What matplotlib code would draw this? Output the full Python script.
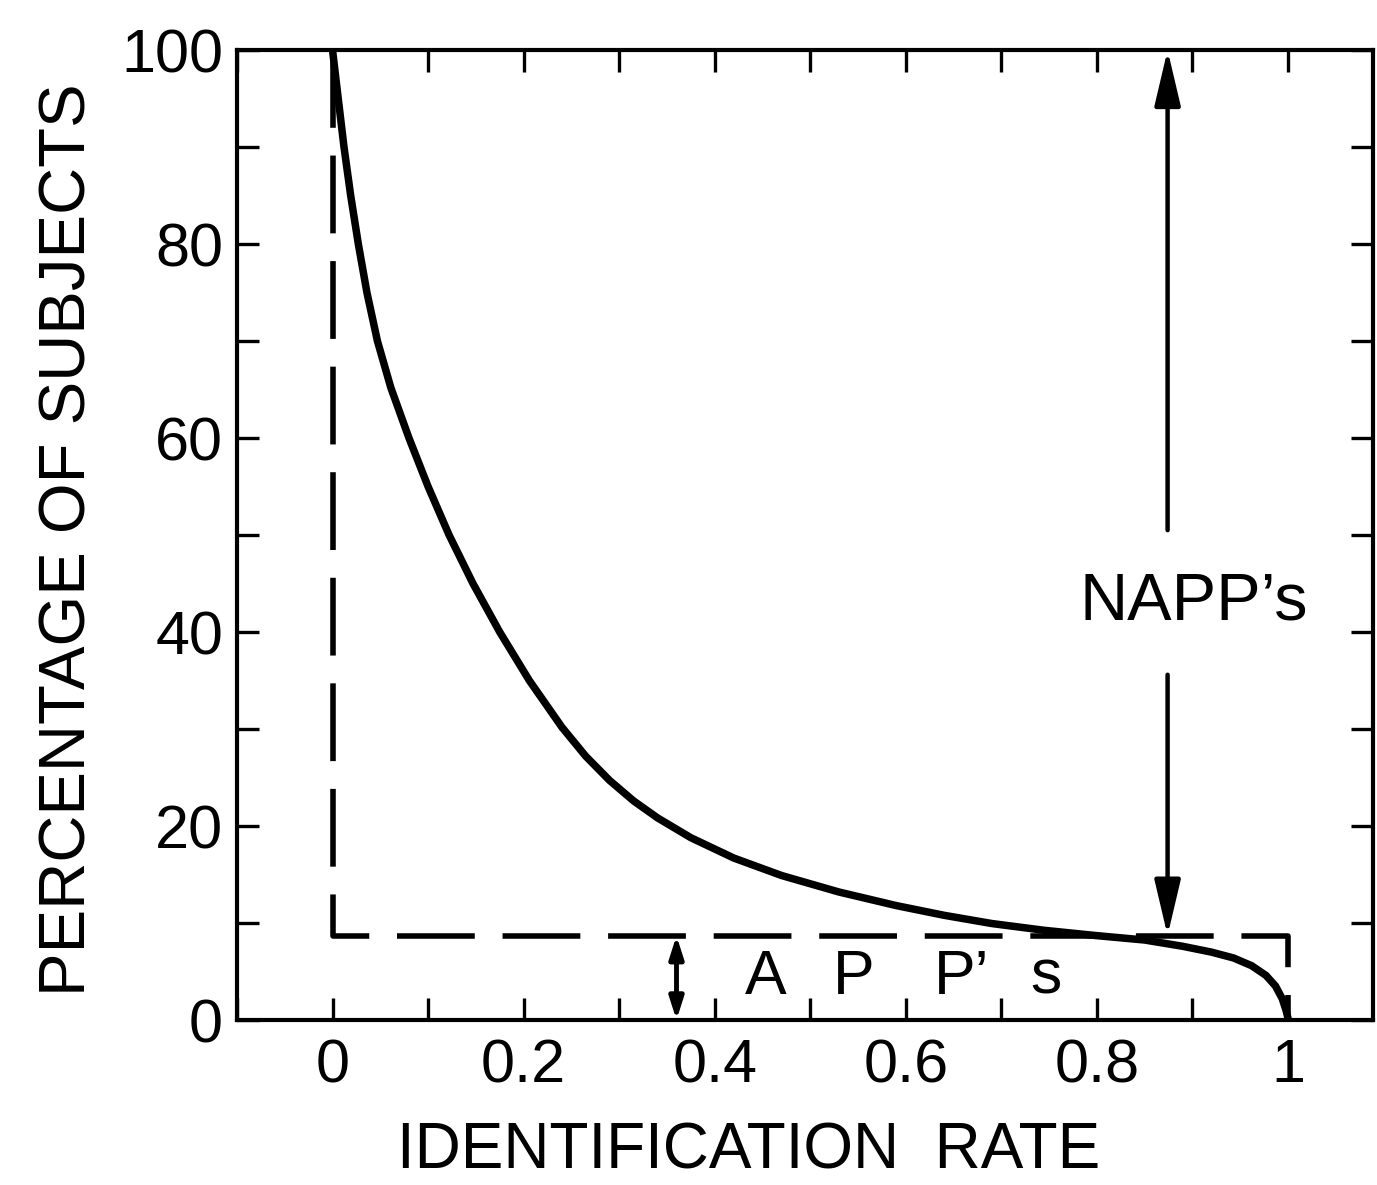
import numpy as np
import matplotlib
matplotlib.use("Agg")
import matplotlib.pyplot as plt
from matplotlib.ticker import MultipleLocator

plt.rcParams['font.family'] = ['Liberation Sans', 'DejaVu Sans']

# curve: identification rate vs percentage of subjects
rate = [0.000, 0.005, 0.012, 0.019, 0.027, 0.036, 0.047, 0.061, 0.080, 0.100,
        0.122, 0.147, 0.175, 0.206, 0.240, 0.265, 0.290, 0.315, 0.340, 0.375,
        0.420, 0.470, 0.530, 0.590, 0.640, 0.690, 0.745, 0.800, 0.850, 0.890,
        0.920, 0.943, 0.962, 0.977, 0.987, 0.994, 0.998, 1.000]
pct = [100.0, 95.8, 90.0, 85.0, 80.0, 75.0, 70.0, 65.2, 60.0, 55.0,
       50.0, 45.0, 40.0, 35.0, 30.2, 27.2, 24.7, 22.6, 20.85, 18.8,
       16.7, 14.9, 13.2, 11.8, 10.8, 9.95, 9.25, 8.7, 8.25, 7.6,
       7.0, 6.4, 5.6, 4.6, 3.5, 2.2, 1.0, 0.2]

# dashed "ideal" step: everyone at 0 except the APP's at 1
ideal_x = [0.0, 0.0, 1.0, 1.0]
ideal_y = [100.0, 8.7, 8.7, 0.0]
app_level = 8.7

xticks = [0, 0.2, 0.4, 0.6, 0.8, 1.0]
xticklabels = ['0', '0.2', '0.4', '0.6', '0.8', '1']
yticks = [0, 20, 40, 60, 80, 100]

fig = plt.figure(figsize=(13.77, 11.85), dpi=100)
ax = fig.add_axes([0.1721, 0.1392, 0.825, 0.8186])

ax.plot(rate, pct, color='black', lw=5.4, solid_joinstyle='round', solid_capstyle='round')
ax.plot(ideal_x, ideal_y, color='black', lw=4, dashes=(14, 5))

# NAPP's arrow (broken around label)
napp_x = 0.874
head = '-|>,head_length=1.7,head_width=0.4'
ax.annotate('', xy=(napp_x, 100), xytext=(napp_x, 50.5),
            arrowprops=dict(arrowstyle=head, mutation_scale=20, lw=3.2,
                            color='black', shrinkA=0, shrinkB=0))
ax.annotate('', xy=(napp_x, app_level), xytext=(napp_x, 35.6),
            arrowprops=dict(arrowstyle=head, mutation_scale=20, lw=3.2,
                            color='black', shrinkA=0, shrinkB=0))
ax.text(0.901, 43, "NAPP\u2019s", ha='center', va='center', fontsize=48)

# APP's arrow
app_x = 0.36
ax.annotate('', xy=(app_x, 0), xytext=(app_x, app_level),
            arrowprops=dict(arrowstyle='<|-|>,head_length=1.1,head_width=0.35',
                            mutation_scale=12, lw=3.5, color='black', shrinkA=0, shrinkB=0))
for lx, letter in zip([0.432, 0.524, 0.629, 0.730], ["A", "P", "P\u2019", "s"]):
    ax.text(lx, 4.4, letter, ha='left', va='center', fontsize=45)

ax.set_xlim(-0.1, 1.089)
ax.set_ylim(0, 100)
ax.set_xticks(xticks)
ax.set_xticklabels(xticklabels)
ax.set_yticks(yticks)
ax.xaxis.set_minor_locator(MultipleLocator(0.1))
ax.yaxis.set_minor_locator(MultipleLocator(10))
ax.tick_params(which='both', direction='in', top=True, right=True,
               length=16, width=2.4, labelsize=44, pad=13)
ax.tick_params(axis='y', labelright=False, pad=10)
for s in ax.spines.values():
    s.set_linewidth(3)

ax.set_xlabel('IDENTIFICATION  RATE', fontsize=46)
ax.set_ylabel('PERCENTAGE OF SUBJECTS', fontsize=47)
ax.xaxis.set_label_coords(0.45, -0.105)
ax.yaxis.set_label_coords(-0.122, 0.495)

fig.savefig('out.png', dpi=100)
